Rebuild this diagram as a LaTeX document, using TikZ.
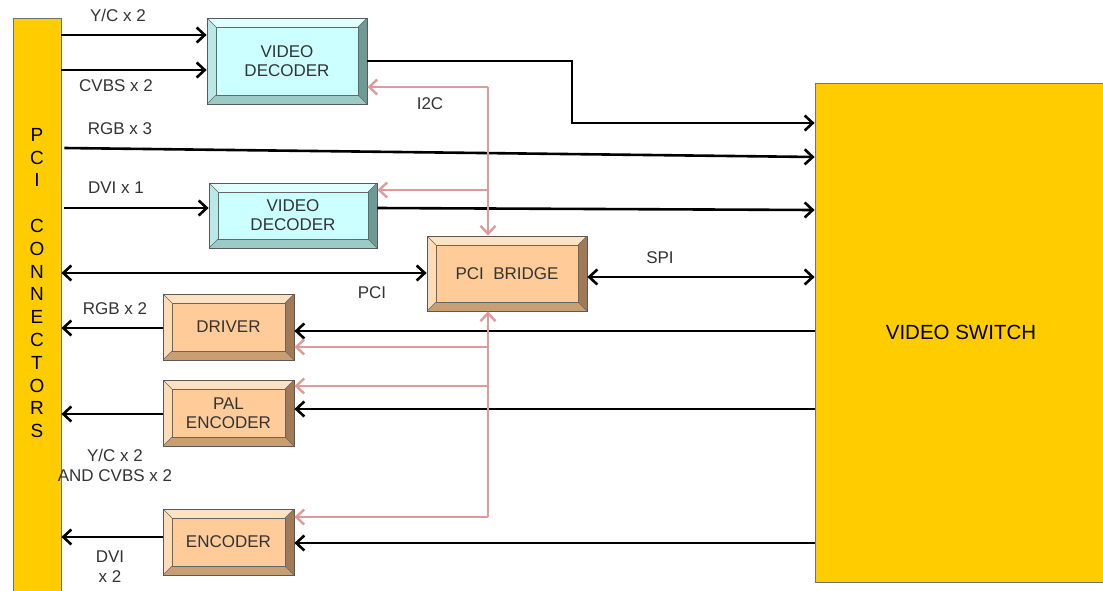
\documentclass[tikz,border=0pt]{standalone}
\usepackage{fontspec}
\setmainfont{Liberation Sans}
\usepackage{tikz}
\usetikzlibrary{arrows.meta, positioning, calc}
\definecolor{gold}{HTML}{FFCC00}
\definecolor{txtgray}{HTML}{333333}
\definecolor{i2cpink}{HTML}{E09A9A}
\definecolor{decface}{HTML}{CCFFFF}
\definecolor{dectop}{HTML}{E2FFFF}
\definecolor{decleft}{HTML}{B9E9E7}
\definecolor{decright}{HTML}{6E9A96}
\definecolor{decbot}{HTML}{9CCBC7}
\definecolor{peface}{HTML}{FFCC99}
\definecolor{petop}{HTML}{FFE2C4}
\definecolor{peleft}{HTML}{FFDCB8}
\definecolor{peright}{HTML}{A07A56}
\definecolor{pebot}{HTML}{C89E72}
\tikzset{
  bevel/.style n args={5}{draw=black!65, line width=0.8pt, fill=#1,
    font=\fontsize{17}{19}\selectfont, text=txtgray, align=center,
    path picture={
      \coordinate (bnw) at (path picture bounding box.north west);
      \coordinate (bne) at (path picture bounding box.north east);
      \coordinate (bsw) at (path picture bounding box.south west);
      \coordinate (bse) at (path picture bounding box.south east);
      \fill[#2] (bnw) -- (bne) -- ([shift={(-9pt,-9pt)}]bne) -- ([shift={(9pt,-9pt)}]bnw) -- cycle;
      \fill[#3] (bnw) -- (bsw) -- ([shift={(9pt,9pt)}]bsw) -- ([shift={(9pt,-9pt)}]bnw) -- cycle;
      \fill[#4] (bne) -- (bse) -- ([shift={(-9pt,9pt)}]bse) -- ([shift={(-9pt,-9pt)}]bne) -- cycle;
      \fill[#5] (bsw) -- (bse) -- ([shift={(-9pt,9pt)}]bse) -- ([shift={(9pt,9pt)}]bsw) -- cycle;
      \draw[black!60, line width=0.7pt] ([shift={(9pt,-9pt)}]bnw) rectangle ([shift={(-9pt,9pt)}]bse);
      \draw[black!60, line width=0.5pt] (bnw) -- ([shift={(9pt,-9pt)}]bnw)
        (bne) -- ([shift={(-9pt,-9pt)}]bne) (bsw) -- ([shift={(9pt,9pt)}]bsw)
        (bse) -- ([shift={(-9pt,9pt)}]bse);
    }},
  decbox/.style={bevel={decface}{dectop}{decleft}{decright}{decbot}},
  pebox/.style={bevel={peface}{petop}{peleft}{peright}{pebot}},
  goldbox/.style={draw=black!55, line width=0.8pt, fill=gold, text=black,
    inner sep=0pt},
  lbl/.style={text=txtgray, font=\fontsize{17}{20}\selectfont, align=center,
    inner sep=1pt},
  sig/.style={-{Straight Barb[length=8pt, width=15pt]}, line width=2.6pt},
  dsig/.style={{Straight Barb[length=8pt, width=15pt]}-{Straight Barb[length=8pt, width=15pt]},
    line width=2.6pt},
  i2c/.style={-{Straight Barb[length=8pt, width=15pt]}, line width=2.4pt, i2cpink},
  i2cline/.style={line width=2.4pt, i2cpink},
}
\begin{document}
\begin{tikzpicture}[x=1pt, y=-1pt]
  \useasboundingbox (0,0) rectangle (1103,590);
  \node[goldbox, minimum width=48pt, minimum height=574pt] (conn) at (37,305) {};
  \node[font=\fontsize{19}{22.8}\selectfont, align=center] (conntxt) at (37,283)
    {P\\C\\I\\[22.8pt]C\\O\\N\\N\\E\\C\\T\\O\\R\\S};
  \node[goldbox, minimum width=292pt, minimum height=499pt,
    font=\fontsize{20.5}{22}\selectfont] (switch) at (961,332.5) {VIDEO SWITCH};

  \node[decbox, minimum width=160pt, minimum height=86pt] (dec1) at (287,61) {VIDEO\\DECODER};
  \node[decbox, minimum width=168pt, minimum height=65pt] (dec2) at (293,215.5) {VIDEO\\DECODER};
  \node[pebox, minimum width=160pt, minimum height=75pt] (bridge) at (507,273.5) {PCI~~BRIDGE};
  \node[pebox, minimum width=131pt, minimum height=66pt] (driver) at (228.5,327) {DRIVER};
  \node[pebox, minimum width=131pt, minimum height=66pt] (palenc) at (228.5,413) {PAL\\ENCODER};
  \node[pebox, minimum width=131pt, minimum height=66pt] (enc) at (228.5,542) {ENCODER};

  % inputs
  \draw[sig] (conn.east |- 0,35) -- (dec1.west |- 0,35);
  \draw[sig] (conn.east |- 0,70) -- (dec1.west |- 0,70);
  \draw[sig] ([xshift=3pt]conn.east |- 0,148) -- (switch.west |- 0,157);
  \draw[sig] ([xshift=3pt]conn.east |- 0,208) -- (dec2.west |- 0,208);
  \draw[sig] (dec1.east |- 0,61) -| (572,123) -- (switch.west |- 0,123);
  \draw[sig] (dec2.east |- 0,208) -- (switch.west |- 0,210);
  \draw[dsig] (conn.east |- 0,273) -- (bridge.west |- 0,273);
  \draw[dsig] (bridge.east |- 0,277) -- (switch.west |- 0,277);

  % outputs
  \draw[sig] (switch.west |- 0,331) -- (driver.east |- 0,331);
  \draw[sig] (switch.west |- 0,409) -- (palenc.east |- 0,409);
  \draw[sig] (switch.west |- 0,543) -- (enc.east |- 0,543);
  \draw[sig] (driver.west |- 0,328) -- (conn.east |- 0,328);
  \draw[sig] (palenc.west |- 0,414) -- (conn.east |- 0,414);
  \draw[sig] (enc.west |- 0,537) -- (conn.east |- 0,537);

  % I2C bus
  \coordinate (bustop) at (488,87);
  \coordinate (busbot) at (488,517);
  \draw[i2cline] (bustop) -- (bustop |- 0,190);
  \draw[i2c] (bustop) -- (dec1.east |- bustop);
  \draw[i2c] (bustop |- 0,190) -- (dec2.east |- 0,190);
  \draw[i2c] (bustop |- 0,180) -- (bridge.north -| bustop);
  \draw[i2c] (busbot) -- (bridge.south -| busbot);
  \draw[i2c] (busbot) -- (enc.east |- busbot);
  \draw[i2c] (busbot |- 0,347) -- (driver.east |- 0,347);
  \draw[i2c] (busbot |- 0,386) -- (palenc.east |- 0,386);

  \node[lbl] (lyc) at (118,15) {Y/C x 2};
  \node[lbl] (lcvbs) at (116,86) {CVBS x 2};
  \node[lbl] (lrgb3) at (120,129) {RGB x 3};
  \node[lbl] (ldvi1) at (116,188) {DVI x 1};
  \node[lbl] (li2c) at (430,104) {I2C};
  \node[lbl] (lpci) at (372,293) {PCI};
  \node[lbl] (lspi) at (660,258) {SPI};
  \node[lbl] (lrgb2) at (115,309) {RGB x 2};
  \node[lbl] (lycout) at (115,465) {Y/C x 2\\AND CVBS x 2};
  \node[lbl] (ldvi2) at (110,567) {DVI\\x 2};
\end{tikzpicture}
\end{document}
